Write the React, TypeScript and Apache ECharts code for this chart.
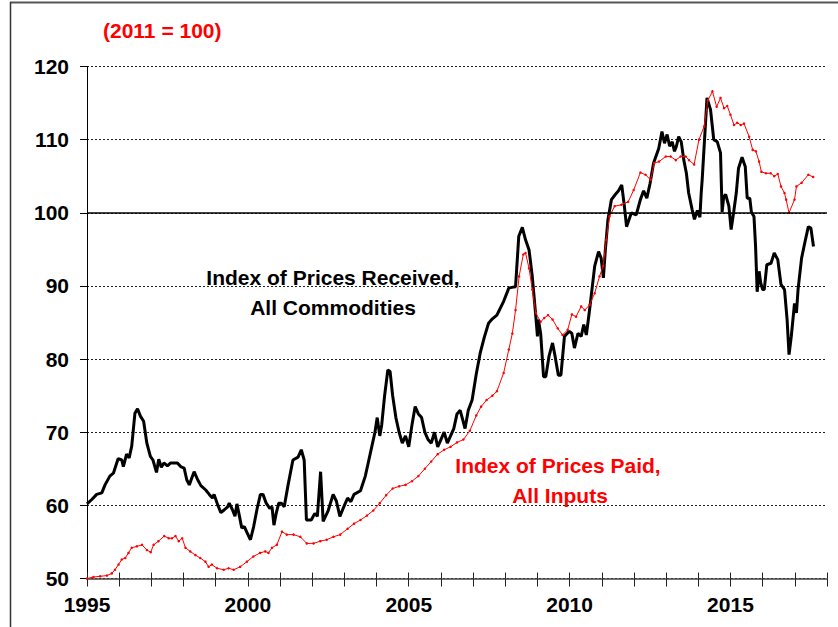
import React, { useEffect, useRef } from "react";
import * as echarts from "echarts";

// Index of Prices Received, All Commodities (2011 = 100)
const receivedYears = [
  1995.0, 1995.15, 1995.3, 1995.46, 1995.56, 1995.71, 1995.82, 1995.97, 1996.08, 1996.13,
  1996.23, 1996.31, 1996.39, 1996.49, 1996.57, 1996.66, 1996.76, 1996.86, 1996.97, 1997.05,
  1997.16, 1997.23, 1997.31, 1997.39, 1997.5, 1997.6, 1997.81, 1997.91, 1998.02, 1998.1,
  1998.18, 1998.28, 1998.33, 1998.44, 1998.54, 1998.69, 1998.8, 1998.9, 1998.95, 1999.06,
  1999.16, 1999.27, 1999.37, 1999.42, 1999.52, 1999.6, 1999.66, 1999.73, 1999.81, 1999.89,
  1999.97, 2000.08, 2000.18, 2000.29, 2000.39, 2000.47, 2000.57, 2000.68, 2000.75, 2000.81,
  2000.88, 2000.96, 2001.04, 2001.13, 2001.25, 2001.4, 2001.56, 2001.66, 2001.75, 2001.82,
  2001.97, 2002.08, 2002.16, 2002.26, 2002.34, 2002.49, 2002.65, 2002.75, 2002.86, 2003.0,
  2003.1, 2003.2, 2003.3, 2003.5, 2003.65, 2003.75, 2003.85, 2003.95, 2004.02, 2004.1,
  2004.16, 2004.25, 2004.35, 2004.42, 2004.5, 2004.6, 2004.7, 2004.8, 2004.9, 2005.0,
  2005.1, 2005.2, 2005.3, 2005.4, 2005.5, 2005.6, 2005.7, 2005.8, 2005.9, 2006.0,
  2006.1, 2006.2, 2006.3, 2006.4, 2006.5, 2006.6, 2006.66, 2006.75, 2006.85, 2006.97,
  2007.1, 2007.22, 2007.35, 2007.48, 2007.6, 2007.74, 2007.85, 2007.95, 2008.11, 2008.2,
  2008.32, 2008.42, 2008.53, 2008.63, 2008.74, 2008.84, 2008.95, 2009.0, 2009.03, 2009.1,
  2009.19, 2009.26, 2009.36, 2009.47, 2009.54, 2009.65, 2009.73, 2009.84, 2009.99, 2010.07,
  2010.15, 2010.26, 2010.36, 2010.44, 2010.52, 2010.62, 2010.78, 2010.9, 2010.98, 2011.05,
  2011.11, 2011.19, 2011.3, 2011.42, 2011.52, 2011.62, 2011.7, 2011.77, 2011.92, 2012.07,
  2012.2, 2012.3, 2012.4, 2012.5, 2012.61, 2012.77, 2012.87, 2012.95, 2013.03, 2013.11,
  2013.19, 2013.26, 2013.32, 2013.39, 2013.47, 2013.55, 2013.63, 2013.7, 2013.81, 2013.88,
  2013.97, 2014.05, 2014.09, 2014.12, 2014.27, 2014.38, 2014.48, 2014.59, 2014.69, 2014.74,
  2014.79, 2014.85, 2014.95, 2015.02, 2015.1, 2015.18, 2015.25, 2015.36, 2015.46, 2015.52,
  2015.6, 2015.65, 2015.73, 2015.78, 2015.83, 2015.89, 2015.94, 2016.0, 2016.05, 2016.13,
  2016.26, 2016.36, 2016.47, 2016.57, 2016.68, 2016.76, 2016.82, 2016.89, 2016.99, 2017.05,
  2017.1, 2017.21, 2017.31, 2017.42, 2017.5, 2017.58,
];
const receivedValues = [
  60.2, 60.8, 61.5, 61.7, 62.8, 64.0, 64.4, 66.4, 66.2, 65.3,
  67.0, 66.5, 68.1, 72.6, 73.2, 72.2, 71.5, 68.5, 66.7, 66.2,
  64.5, 66.3, 65.2, 65.8, 65.4, 65.8, 65.8, 65.3, 65.1, 63.5,
  62.8, 64.0, 64.6, 63.5, 62.7, 62.1, 61.5, 61.0, 61.5, 60.1,
  59.0, 59.4, 59.8, 60.3, 59.4, 58.5, 60.2, 58.7, 56.9, 57.1,
  56.3, 55.3, 57.1, 59.6, 61.5, 61.5, 60.3, 59.6, 59.8, 57.3,
  58.9, 60.3, 60.3, 59.8, 62.8, 66.2, 66.6, 67.6, 66.2, 58.0,
  58.0, 58.9, 58.5, 64.6, 57.8, 59.2, 61.5, 60.6, 58.5, 60.0,
  61.0, 60.5, 61.5, 62.0, 64.0, 66.0, 68.0, 70.0, 72.0, 69.5,
  71.0, 75.0, 78.5, 78.3, 75.0, 72.0, 70.0, 68.5, 69.5, 68.0,
  71.0, 73.5, 72.5, 72.0, 70.0, 69.0, 68.5, 70.0, 68.0, 69.0,
  70.0, 68.5, 69.5, 70.5, 72.5, 73.0, 72.0, 70.5, 73.0, 74.4,
  78.0, 80.8, 83.0, 84.9, 85.5, 86.0, 87.0, 87.9, 89.7, 89.8,
  89.9, 96.8, 98.0, 96.3, 94.9, 91.3, 85.8, 83.1, 85.4, 83.5,
  77.6, 77.6, 80.4, 82.2, 80.6, 77.8, 77.8, 83.1, 83.8, 83.5,
  81.5, 83.5, 83.1, 84.7, 83.3, 86.7, 92.7, 94.7, 93.8, 91.1,
  94.9, 99.0, 101.8, 102.5, 103.0, 103.8, 101.0, 98.1, 100.0, 99.7,
  101.8, 103.0, 102.0, 104.0, 106.8, 108.8, 111.1, 109.5, 110.7, 109.1,
  109.7, 108.4, 109.1, 110.4, 109.7, 107.2, 105.4, 102.7, 100.4, 99.1,
  100.3, 99.4, 102.7, 104.5, 115.7, 114.1, 110.0, 109.7, 108.2, 100.1,
  102.2, 102.5, 100.9, 97.7, 100.1, 102.7, 106.1, 107.6, 106.3, 102.0,
  102.0, 100.1, 99.5, 95.4, 89.2, 92.0, 90.4, 89.5, 89.5, 92.9,
  93.1, 94.5, 93.6, 90.2, 89.5, 85.4, 80.6, 83.1, 87.6, 86.3,
  89.5, 93.8, 95.9, 98.1, 97.9, 95.4,
];

// Index of Prices Paid, All Inputs (2011 = 100)
const paidYears = [
  1995.0, 1995.2, 1995.41, 1995.62, 1995.77, 1995.87, 1995.98, 1996.08, 1996.19, 1996.29,
  1996.39, 1996.55, 1996.71, 1996.86, 1996.98, 1997.07, 1997.22, 1997.4, 1997.54, 1997.64,
  1997.75, 1997.85, 1997.96, 1998.06, 1998.21, 1998.37, 1998.52, 1998.68, 1998.78, 1998.88,
  1999.04, 1999.25, 1999.4, 1999.56, 1999.76, 1999.97, 2000.17, 2000.38, 2000.54, 2000.64,
  2000.75, 2000.9, 2001.06, 2001.21, 2001.42, 2001.63, 2001.83, 2002.04, 2002.25, 2002.45,
  2002.66, 2002.87, 2003.1, 2003.3, 2003.5, 2003.7, 2003.9, 2004.1, 2004.3, 2004.5,
  2004.7, 2004.9, 2005.1, 2005.3, 2005.5, 2005.7, 2005.9, 2006.1, 2006.3, 2006.5,
  2006.7, 2006.9, 2007.1, 2007.25, 2007.42, 2007.6, 2007.74, 2007.95, 2008.11, 2008.22,
  2008.32, 2008.43, 2008.56, 2008.63, 2008.74, 2008.84, 2008.95, 2009.1, 2009.21, 2009.33,
  2009.47, 2009.63, 2009.78, 2009.94, 2010.07, 2010.2, 2010.36, 2010.47, 2010.62, 2010.78,
  2010.93, 2011.04, 2011.14, 2011.24, 2011.4, 2011.61, 2011.82, 2011.99, 2012.2, 2012.36,
  2012.52, 2012.63, 2012.78, 2012.99, 2013.14, 2013.3, 2013.45, 2013.61, 2013.71, 2013.87,
  2014.02, 2014.18, 2014.3, 2014.44, 2014.57, 2014.69, 2014.8, 2014.9, 2015.0, 2015.11,
  2015.21, 2015.32, 2015.42, 2015.58, 2015.69, 2015.79, 2015.89, 2015.96, 2016.1, 2016.25,
  2016.36, 2016.47, 2016.57, 2016.68, 2016.73, 2016.82, 2016.99, 2017.05, 2017.21, 2017.42,
  2017.57,
];
const paidValues = [
  50.0, 50.2, 50.3, 50.4, 50.7, 51.2, 51.9, 52.6, 52.8, 53.5,
  54.2, 54.4, 54.6, 53.9, 53.6, 54.6, 55.1, 55.8, 55.5, 55.5,
  55.8, 55.1, 55.5, 54.2, 53.7, 53.2, 52.8, 52.3, 51.6, 51.9,
  51.4, 51.2, 51.4, 51.2, 51.6, 52.3, 53.0, 53.5, 53.7, 53.5,
  54.2, 54.6, 56.4, 56.0, 56.0, 55.7, 54.8, 54.8, 55.1, 55.3,
  55.7, 56.0, 56.8, 57.5, 58.0, 58.6, 59.3, 60.3, 61.4, 62.3,
  62.6, 62.8, 63.3, 64.0, 65.0, 66.0, 67.0, 67.6, 68.0, 68.6,
  69.0, 70.2, 72.3, 73.5, 74.4, 75.0, 75.6, 78.1, 81.3, 83.5,
  86.7, 91.3, 94.3, 94.5, 92.4, 89.5, 86.3, 85.1, 85.6, 86.0,
  85.4, 84.2, 83.3, 84.0, 86.1, 85.8, 87.2, 86.7, 87.4, 89.0,
  91.3, 92.7, 96.3, 99.5, 100.9, 101.1, 101.5, 103.1, 105.5, 105.2,
  104.5, 106.8, 107.0, 107.7, 107.7, 107.2, 107.7, 107.7, 107.2, 106.6,
  110.0, 111.8, 115.4, 116.6, 114.5, 115.7, 114.3, 114.6, 113.4, 112.0,
  112.3, 112.0, 112.2, 110.4, 108.6, 108.4, 107.0, 105.6, 105.4, 105.4,
  105.0, 105.3, 103.6, 102.7, 101.8, 100.0, 101.8, 103.6, 104.1, 105.2,
  104.9,
];

const yTicks = [50, 60, 70, 80, 90, 100, 110, 120];
const xLabelYears = [1995, 2000, 2005, 2010, 2015];

const FONT = "'Liberation Sans', Arial, sans-serif";

export default function App() {
  const ref = useRef<HTMLDivElement>(null);

  useEffect(() => {
    if (!ref.current) return;
    const chart = echarts.init(ref.current, null, { renderer: "svg" });
    const received = receivedYears.map((t, i) => [t, receivedValues[i]]);
    const paid = paidYears.map((t, i) => [t, paidValues[i]]);

    chart.setOption({
      animation: false,
      backgroundColor: "#fff",
      grid: { left: 87, right: 11, top: 66.5, bottom: 48.5, containLabel: false },
      xAxis: [
        {
          type: "value",
          min: 1995,
          max: 2018,
          interval: 1,
          axisLine: { show: true, lineStyle: { color: "#444", width: 1.5 } },
          axisTick: { show: true, length: 8, lineStyle: { color: "#222", width: 1 } },
          axisLabel: {
            formatter: (v: number) => (xLabelYears.indexOf(v) >= 0 ? String(v) : ""),
            fontSize: 21,
            fontWeight: "bold",
            fontFamily: FONT,
            color: "#000",
            margin: 15,
            showMinLabel: true,
            showMaxLabel: true,
          },
          splitLine: { show: false },
        },
        {
          type: "value",
          min: 1995,
          max: 2018,
          interval: 1,
          position: "bottom",
          axisLine: { show: false },
          axisTick: { show: true, inside: true, length: 6, lineStyle: { color: "#222", width: 1 } },
          axisLabel: { show: false },
          splitLine: { show: false },
        },
      ],
      yAxis: {
        type: "value",
        min: yTicks[0],
        max: yTicks[yTicks.length - 1],
        interval: 10,
        axisLine: { show: true, lineStyle: { color: "#000", width: 1 } },
        axisTick: { show: true, length: 7, lineStyle: { color: "#000", width: 1 } },
        axisLabel: {
          fontSize: 21,
          fontWeight: "bold",
          fontFamily: FONT,
          color: "#000",
          margin: 18,
        },
        splitLine: { show: true, lineStyle: { color: "#222", width: 1, type: [2, 2] } },
      },
      series: [
        {
          name: "Index of Prices Received, All Commodities",
          type: "line",
          data: received,
          showSymbol: false,
          lineStyle: { color: "#000", width: 3 },
          itemStyle: { color: "#000" },
          z: 3,
          markLine: {
            silent: true,
            symbol: "none",
            label: { show: false },
            lineStyle: { color: "#000", type: "solid", width: 1.5 },
            data: [{ yAxis: 100 }],
          },
        },
        {
          name: "Index of Prices Paid, All Inputs",
          type: "line",
          data: paid,
          showSymbol: true,
          symbol: "circle",
          symbolSize: 2.5,
          lineStyle: { color: "#ff0000", width: 1 },
          itemStyle: { color: "#ff0000" },
          z: 4,
        },
      ],
      graphic: [
        {
          type: "line",
          shape: { x1: 10, y1: 2.5, x2: 838, y2: 2.5 },
          style: { stroke: "#555", lineWidth: 2 },
        },
        {
          type: "line",
          shape: { x1: 10.5, y1: 2, x2: 10.5, y2: 627 },
          style: { stroke: "#333", lineWidth: 1.5 },
        },
        {
          type: "text",
          x: 103,
          y: 30,
          style: {
            text: "(2011 = 100)",
            fill: "#ff0000",
            fontSize: 21,
            fontWeight: "bold",
            fontFamily: FONT,
            align: "left",
            verticalAlign: "middle",
          },
        },
        {
          type: "text",
          x: 333,
          y: 277,
          style: {
            text: "Index of Prices Received,",
            fill: "#000",
            fontSize: 21,
            fontWeight: "bold",
            fontFamily: FONT,
            align: "center",
            verticalAlign: "middle",
          },
        },
        {
          type: "text",
          x: 333,
          y: 307,
          style: {
            text: "All Commodities",
            fill: "#000",
            fontSize: 21,
            fontWeight: "bold",
            fontFamily: FONT,
            align: "center",
            verticalAlign: "middle",
          },
        },
        {
          type: "text",
          x: 558,
          y: 465,
          style: {
            text: "Index of Prices Paid,",
            fill: "#ff0000",
            fontSize: 21,
            fontWeight: "bold",
            fontFamily: FONT,
            align: "center",
            verticalAlign: "middle",
          },
        },
        {
          type: "text",
          x: 560,
          y: 495,
          style: {
            text: "All Inputs",
            fill: "#ff0000",
            fontSize: 21,
            fontWeight: "bold",
            fontFamily: FONT,
            align: "center",
            verticalAlign: "middle",
          },
        },
      ],
    });

    return () => chart.dispose();
  }, []);

  return (
    <div
      ref={ref}
      style={{ position: "absolute", left: 0, top: 0, width: 838, height: 627 }}
    />
  );
}
